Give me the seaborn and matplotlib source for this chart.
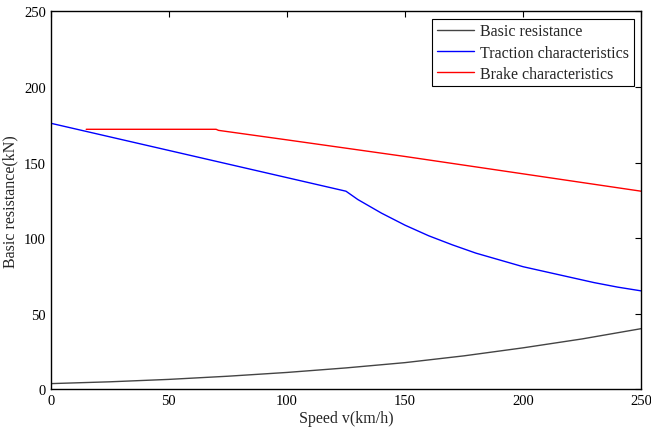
import pandas as pd
import numpy as np
import matplotlib.pyplot as plt
import seaborn as sns

# values
speed_basic = [0, 25, 50, 75, 100, 125, 150, 175, 200, 225, 250]
basic_res = [3.6, 4.8, 6.4, 8.5, 11, 14, 17.5, 22, 27.3, 33.2, 40]

speed_trac = [0, 10, 20, 30, 40, 50, 60, 70, 80, 90, 100, 110, 120, 125,
              130, 140, 150, 160, 170, 180, 190, 200, 210, 220, 230, 240, 250]
traction = [176, 172.4, 168.8, 165.2, 161.6, 158, 154.4, 150.8, 147.2, 143.6, 140, 136.4, 132.8, 131,
            125.5, 116.5, 108.5, 101.5, 95.5, 90, 85.5, 81, 77.5, 74, 70.5, 67.5, 65]

speed_brake = [15, 70, 71, 100, 150, 200, 250]
brake = [172, 172, 171.3, 165, 154, 142.5, 131]

sns.set_style("white")
plt.rcParams['font.family'] = ['Liberation Serif', 'DejaVu Serif']

fig = plt.figure(figsize=(6.51, 4.31), dpi=100)
ax = fig.add_axes([0.078, 0.095, 0.907, 0.876])

sns.lineplot(x=speed_basic, y=basic_res, color="#444444", lw=1, ax=ax, label="Basic resistance")
sns.lineplot(x=speed_trac, y=traction, color="blue", lw=1, ax=ax, label="Traction characteristics")
sns.lineplot(x=speed_brake, y=brake, color="red", lw=1, ax=ax, label="Brake characteristics")

ax.set_xlim(0, 250)
ax.set_ylim(0, 250)
ax.set_xticks([0, 50, 100, 150, 200, 250])
ax.set_yticks([0, 50, 100, 150, 200, 250])
ax.tick_params(direction="in", top=True, right=True, length=4, width=0.8, labelsize=10.5, colors="black")
for s in ax.spines.values():
    s.set_color("black")
    s.set_linewidth(1)

ax.set_xlabel("Speed v(km/h)", fontsize=11.5, labelpad=2)
ax.set_ylabel("Basic resistance(kN)", fontsize=11.5, labelpad=4)

leg = ax.legend(loc="upper right", fontsize=11.5, frameon=True, fancybox=False,
                edgecolor="black", framealpha=1, borderaxespad=0.45,
                handlelength=2.3, handletextpad=0.4, labelspacing=0.32, borderpad=0.3)
leg.get_frame().set_linewidth(0.8)

fig.savefig("out.png", dpi=100)
